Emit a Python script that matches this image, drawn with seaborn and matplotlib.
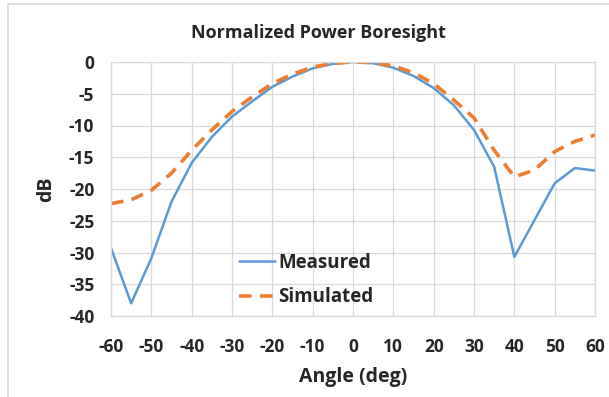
import numpy as np
import pandas as pd
import seaborn as sns
import matplotlib
matplotlib.use("Agg")
import matplotlib.pyplot as plt
from matplotlib.patches import Rectangle
from matplotlib.lines import Line2D

angles = [-60, -55, -50, -45, -40, -35, -30, -25, -20, -15, -10, -5, 0,
          5, 10, 15, 20, 25, 30, 35, 40, 45, 50, 55, 60]
measured = [-29.3, -38.0, -30.9, -22.0, -15.9, -11.8, -8.6, -6.2, -3.9, -2.3, -1.0, -0.3, 0.0,
            -0.2, -0.9, -2.2, -4.1, -6.8, -10.7, -16.5, -30.7, -24.9, -19.1, -16.7, -17.1]
simulated = [-22.3, -21.7, -20.2, -17.5, -13.9, -10.7, -7.8, -5.5, -3.4, -1.9, -0.8, -0.2, 0.0,
             -0.1, -0.6, -1.7, -3.4, -6.0, -8.8, -13.9, -18.1, -17.0, -14.1, -12.5, -11.5]
xticks = [-60, -50, -40, -30, -20, -10, 0, 10, 20, 30, 40, 50, 60]
yticks = [0, -5, -10, -15, -20, -25, -30, -35, -40]

df = pd.DataFrame({"Angle": angles * 2,
                   "dB": measured + simulated,
                   "Series": ["Measured"] * len(angles) + ["Simulated"] * len(angles)})

sns.set_theme(style="white")
plt.rcParams['font.family'] = ['Open Sans', 'DejaVu Sans']
plt.rcParams['axes.unicode_minus'] = False

W, H = 609, 397
fig = plt.figure(figsize=(W / 100, H / 100), dpi=100)
ax = fig.add_axes([111 / W, 1 - 316 / H, (595 - 111) / W, (316 - 62) / H])

fig.patches.append(Rectangle((8 / W, -0.1), 1.2, 1 - 4 / H + 0.1, transform=fig.transFigure,
                             fill=False, edgecolor="#d9d9d9", linewidth=1.2, zorder=0))

palette = {"Measured": "#5b9bd5", "Simulated": "#ed7d31"}
sns.lineplot(data=df, x="Angle", y="dB", hue="Series", style="Series",
             palette=palette, dashes={"Measured": "", "Simulated": (3.5, 2.3)},
             ax=ax, legend=False)
ax.lines[0].set_linewidth(1.8)
ax.lines[1].set_linewidth(2.6)

ax.set_xlim(-60, 60)
ax.set_ylim(-40, 0)
ax.set_xticks(xticks)
ax.set_yticks(yticks)
ax.tick_params(axis="x", labelsize=12.5, pad=16, length=0)
ax.tick_params(axis="y", labelsize=12.5, pad=12, length=0)
for lab in ax.get_xticklabels() + ax.get_yticklabels():
    lab.set_fontweight("bold")
ax.grid(True, color="#d9d9d9", linewidth=0.9)
for s in ax.spines.values():
    s.set_color("#d9d9d9")
    s.set_linewidth(0.9)
ax.set_xlabel("Angle (deg)", fontsize=14, fontweight="bold", labelpad=8)
ax.set_ylabel("dB", fontsize=14, fontweight="bold", labelpad=9)
fig.text(318 / W, 1 - 33 / H, "Normalized Power Boresight", ha="center", va="center",
         fontsize=13, fontweight="bold")

handles = [Line2D([], [], color="#5b9bd5", lw=1.8),
           Line2D([], [], color="#ed7d31", lw=2.6, dashes=(3.5, 2.3))]
ax.legend(handles, ["Measured", "Simulated"], loc="center left",
          bbox_to_anchor=((222 - 111) / (595 - 111), (316 - 280) / (316 - 62)),
          frameon=False, prop={"weight": "bold", "size": 13.5},
          handlelength=1.9, handletextpad=0.2, labelspacing=0.8)

fig.savefig("out.png", dpi=100)
